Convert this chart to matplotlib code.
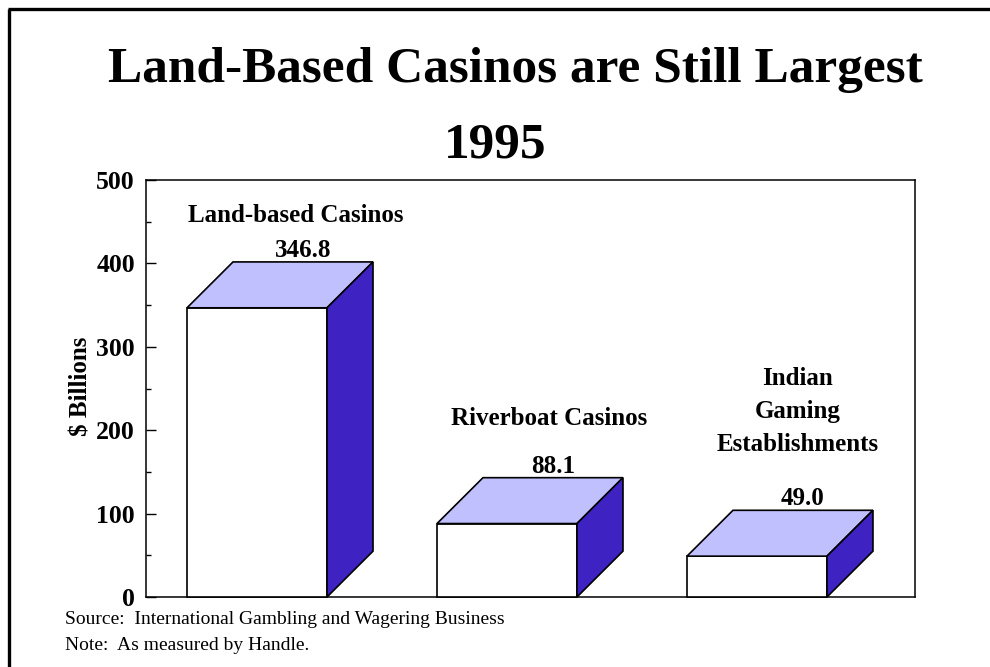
import matplotlib.pyplot as plt
from matplotlib.patches import Polygon, Rectangle
from matplotlib.lines import Line2D
from matplotlib.ticker import MultipleLocator

plt.rcParams['font.family'] = ['Liberation Serif', 'DejaVu Serif']

categories = ["Land-based Casinos", "Riverboat Casinos", "Indian\nGaming\nEstablishments"]
values = [346.8, 88.1, 49.0]
value_labels = ["346.8", "88.1", "49.0"]

front_col = "white"
top_col = "#c0c0ff"
side_col = "#3f22c2"

fig = plt.figure(figsize=(9.9, 6.67), dpi=100)
ax = fig.add_axes([0.1475, 0.1049, 0.7767, 0.6252])

# bar geometry in data units
w = 0.56      # front face width
dx = 0.184    # depth offset along x
dy = 55.0     # depth offset along y

for i, v in enumerate(values):
    x0 = i - w / 2
    x1 = i + w / 2
    ax.add_patch(Rectangle((x0, 0), w, v, facecolor=front_col, edgecolor="black",
                           lw=1.2, zorder=3, clip_on=False))
    ax.add_patch(Polygon([(x0, v), (x1, v), (x1 + dx, v + dy), (x0 + dx, v + dy)],
                         closed=True, facecolor=top_col, edgecolor="black", lw=1.2,
                         zorder=3, clip_on=False))
    ax.add_patch(Polygon([(x1, 0), (x1 + dx, dy), (x1 + dx, v + dy), (x1, v)],
                         closed=True, facecolor=side_col, edgecolor="black", lw=1.2,
                         zorder=3, clip_on=False))
    ax.text(i + dx, v + dy + 6, value_labels[i], ha="center", va="baseline",
            fontsize=18, fontweight="bold", zorder=4)

# category captions
ax.text(0.156, 458, categories[0], ha="center", va="center", fontsize=18, fontweight="bold")
ax.text(1.17, 214, categories[1], ha="center", va="center", fontsize=18, fontweight="bold")
ax.text(2.164, 222, categories[2], ha="center", va="center", fontsize=18,
        fontweight="bold", linespacing=1.55)

ax.set_xlim(-0.444, 2.632)
ax.set_ylim(0, 500)
ax.set_xticks(range(len(values)))
ax.set_xticklabels([])
ax.yaxis.set_major_locator(MultipleLocator(100))
ax.yaxis.set_minor_locator(MultipleLocator(50))
ax.tick_params(axis="y", which="major", direction="in", length=7.5, width=1,
               labelsize=18.5, pad=8)
ax.tick_params(axis="y", which="minor", direction="in", length=3.5, width=1)
ax.tick_params(axis="x", which="major", direction="in", length=6.5, width=0.8,
               color="#555555")
for lab in ax.get_yticklabels():
    lab.set_fontweight("bold")
for sp in ax.spines.values():
    sp.set_linewidth(1.1)
ax.set_ylabel("$ Billions", fontsize=18, fontweight="bold")
ax.yaxis.set_label_coords(-0.069, 0.505)

fig.text(0.521, 1 - 82 / 667, "Land-Based Casinos are Still Largest", ha="center",
         va="baseline", fontsize=37, fontweight="bold")
fig.text(0.5, 1 - 157 / 667, "1995", ha="center", va="baseline",
         fontsize=37, fontweight="bold")

fig.text(0.066, 1 - 620 / 667, "Source:  International Gambling and Wagering Business",
         fontsize=14, va="center")
fig.text(0.066, 1 - 645 / 667, "Note:  As measured by Handle.", fontsize=14, va="center")

# page border on the left and top
fig.add_artist(Line2D([0.0095, 0.0095], [0, 0.9865], color="black", lw=2.4,
                      solid_capstyle="butt"))
fig.add_artist(Line2D([0.0085, 1.0], [0.9865, 0.9865], color="black", lw=2.4,
                      solid_capstyle="butt"))

fig.savefig("out.png", dpi=100)
